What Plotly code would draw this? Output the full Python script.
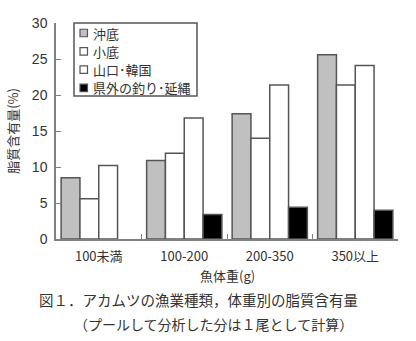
import plotly.graph_objects as go

categories = ["100未満", "100-200", "200-350", "350以上"]
series_names = ["沖底", "小底", "山口･韓国", "県外の釣り･延縄"]
okisoko = [8.5, 10.9, 17.4, 25.6]
kosoko = [5.6, 11.9, 14.0, 21.4]
yamaguchi = [10.2, 16.8, 21.4, 24.1]
kengai = [None, 3.4, 4.4, 4.0]
series_values = [okisoko, kosoko, yamaguchi, kengai]
fill_colors = ["#c0c0c0", "#ffffff", "#ffffff", "#000000"]
y_ticks = [0, 5, 10, 15, 20, 25, 30]

jp = "Noto Sans CJK JP, Liberation Sans, sans-serif"
W, H = 416, 341
ML, MR, MT, MB = 56, 18, 23, 102
pw, ph = W - ML - MR, H - MT - MB


def px_x(x):
    return (x - ML) / pw


def px_y(y):
    return (H - MB - y) / ph


fig = go.Figure()
for name, vals, col in zip(series_names, series_values, fill_colors):
    fig.add_trace(go.Bar(
        x=categories, y=vals, name=name,
        marker=dict(color=col, line=dict(color="#555555", width=1.5)),
    ))

shapes = []
annotations = []

# custom legend (small square swatches close to text, like the reference)
shapes.append(dict(type="rect", xref="paper", yref="paper",
                   x0=px_x(74), x1=px_x(197), y0=px_y(96), y1=px_y(23),
                   line=dict(color="#555555", width=1.5), fillcolor="white", layer="above"))
for i, (name, col) in enumerate(zip(series_names, fill_colors)):
    cy = 33 + i * 18.3
    shapes.append(dict(type="rect", xref="paper", yref="paper",
                       x0=px_x(80), x1=px_x(87.5), y0=px_y(cy + 3.75), y1=px_y(cy - 3.75),
                       line=dict(color="#555555", width=1.2), fillcolor=col, layer="above"))
    annotations.append(dict(text=name, x=px_x(91), y=px_y(cy), xref="paper", yref="paper",
                            xanchor="left", yanchor="middle", showarrow=False,
                            font=dict(family=jp, size=13, color="#333333")))

annotations += [
    dict(text="魚体重(g)", x=0.5, y=px_y(275), xref="paper", yref="paper",
         xanchor="center", yanchor="middle", showarrow=False,
         font=dict(family=jp, size=13, color="#333333")),
    dict(text="図１．アカムツの漁業種類，体重別の脂質含有量", x=px_x(37), y=px_y(312),
         xref="paper", yref="paper", showarrow=False, xanchor="left", yanchor="bottom",
         font=dict(family=jp, size=14.5, color="#333333")),
    dict(text="（プールして分析した分は１尾として計算）", x=px_x(72), y=px_y(312),
         xref="paper", yref="paper", showarrow=False, xanchor="left", yanchor="top",
         font=dict(family=jp, size=14, color="#333333")),
]

fig.update_layout(
    width=W, height=H,
    margin=dict(l=ML, r=MR, t=MT, b=MB),
    barmode="group", bargap=0.12, bargroupgap=0,
    plot_bgcolor="white", paper_bgcolor="white",
    font=dict(family=jp, size=13, color="#333333"),
    showlegend=False,
    xaxis=dict(
        type="category", showline=True, linecolor="#808080", linewidth=1.5,
        ticks="inside", tickson="boundaries", ticklen=5, tickcolor="#808080",
        showgrid=False, tickfont=dict(family=jp, size=13, color="#333333"),
        ticklabelstandoff=5,
    ),
    yaxis=dict(
        range=[0, 30], tickvals=y_ticks, showline=True, linecolor="#808080",
        linewidth=1.5, ticks="inside", ticklen=5, tickcolor="#808080",
        showgrid=False, zeroline=False, ticklabelstandoff=4,
        tickfont=dict(family="Liberation Sans, Arial, sans-serif", size=14, color="#333333"),
        title=dict(text="脂質含有量(%)", font=dict(family=jp, size=13, color="#333333"), standoff=10),
    ),
    shapes=shapes,
    annotations=annotations,
)

fig.write_html("out.html")
